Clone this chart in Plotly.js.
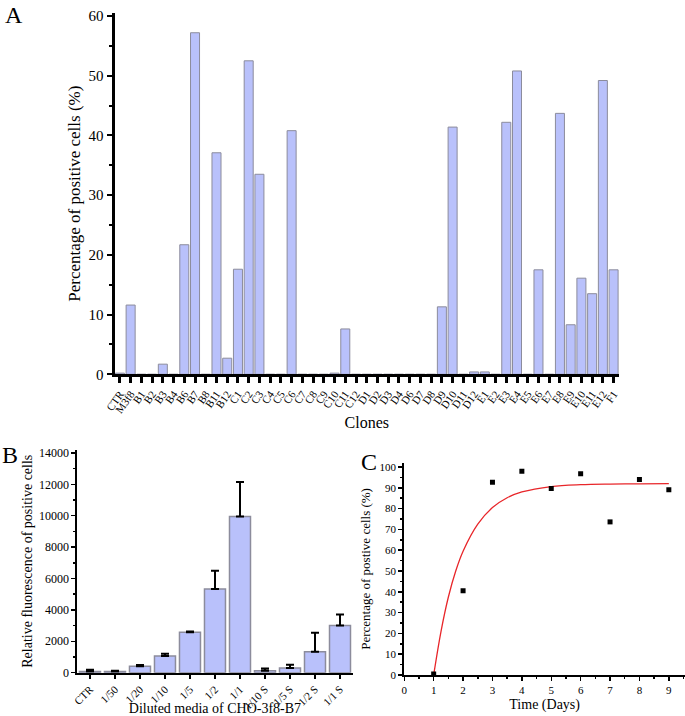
<!DOCTYPE html>
<html>
<head>
<meta charset="utf-8">
<script src="https://cdn.plot.ly/plotly-3.0.1.min.js"></script>
<style>html,body{margin:0;padding:0;background:#fff;}#chart{width:685px;height:716px;}</style>
</head>
<body>
<div id="chart"></div>
<script>
// Panel A data
const clones = ["CTR","M3f8","B1","B2","B3","B4","B6","B7","B8","B11","B12",
  "C1","C2","C3","C4","C5","C6","C7","C8","C9","C10","C11","C12",
  "D1","D2","D3","D4","D6","D7","D8","D9","D10","D11","D12",
  "E1","E2","E3","E4","E5","E6","E7","E8","E9","E10","E11","E12","F1"];
const positiveA = [0.2,11.6,0,0,1.7,0,21.7,57.2,0,37.1,2.7,
  17.6,52.5,33.5,0,0,40.8,0,0,0,0.2,7.6,0,
  0,0,0,0,0,0,0,11.3,41.4,0,0.4,
  0.4,0,42.2,50.8,0,17.5,0,43.7,8.3,16.1,13.5,49.2,17.5];

// Panel B data
const dilutions = ["CTR","1/50","1/20","1/10","1/5","1/2","1/1","1/10 S","1/5 S","1/2 S","1/1 S"];
const fluorescence = [80,80,410,1070,2580,5330,9950,130,300,1340,3000];
const fluorescenceErr = [100,50,80,140,50,1160,2200,130,200,1210,700];
const zeroErr = [0,0,0,0,0,0,0,0,0,0,0];

// Panel C data
const days = [1,2,3,4,5,6,7,8,9];
const positiveC = [0.5,40.5,92.7,98,89.7,96.8,73.6,94,89];
const fitDays = [1,1.25,1.5,1.75,2,2.5,3,3.5,4,5,6,7,8,9];
const fitValues = [0,21,37.5,50,59.5,72.5,80.5,85.2,88,90.6,91.5,91.8,91.9,92];

const barFill = "#b9c1fb";
const barLine = "#8c8c9c";
const serif = '"Liberation Serif", "Times New Roman", serif';

const traces = [
  {type:"bar", x:clones, y:positiveA, xaxis:"x", yaxis:"y",
   marker:{color:barFill, line:{color:barLine, width:1}}},
  {type:"bar", x:dilutions, y:fluorescence, xaxis:"x2", yaxis:"y2",
   marker:{color:barFill, line:{color:barLine, width:1.5}},
   error_y:{type:"data", symmetric:false, array:fluorescenceErr, arrayminus:zeroErr,
            color:"#000", thickness:2, width:4}},
  {type:"scatter", mode:"lines", x:fitDays, y:fitValues, xaxis:"x3", yaxis:"y3",
   line:{color:"#e8262a", width:1.3, shape:"spline"}},
  {type:"scatter", mode:"markers", x:days, y:positiveC, xaxis:"x3", yaxis:"y3",
   marker:{symbol:"square", color:"#000", size:5}}
];

const axBase = {showgrid:false, zeroline:false, showline:true, linecolor:"#000",
  ticks:"outside", tickcolor:"#000", automargin:false};

const layout = {
  width:685, height:716, showlegend:false, bargap:0.16,
  margin:{l:0,r:0,t:0,b:0}, paper_bgcolor:"#fff", plot_bgcolor:"#fff",
  font:{family:serif, color:"#000"},
  xaxis:Object.assign({}, axBase, {domain:[0.1672,0.9036], anchor:"y", type:"category",
    range:[-0.5,46.5], tickmode:"array", tickvals:clones, ticktext:clones,
    linewidth:3, ticklen:6, tickwidth:3, tickangle:-55,
    tickfont:{size:11, family:serif},
    title:{text:"Clones", font:{size:16, family:serif}, standoff:3}}),
  yaxis:Object.assign({}, axBase, {domain:[0.4772,0.9818], anchor:"x",
    range:[0,60.5], dtick:10, linewidth:3, ticklen:5, tickwidth:2,
    minor:{ticks:"outside", dtick:5, ticklen:3, tickwidth:2, tickcolor:"#000"},
    tickfont:{size:15, family:serif},
    title:{text:"Percentage of positive cells (%)", font:{size:17, family:serif}, standoff:4}}),
  xaxis2:Object.assign({}, axBase, {domain:[0.1131,0.5146], anchor:"y2", type:"category",
    range:[-0.5,10.5], linewidth:2, ticklen:4, tickwidth:2, tickangle:-45,
    tickfont:{size:11, family:serif},
    title:{text:"Diluted media of CHO-3f8-B7", font:{size:14, family:serif}, standoff:2}}),
  yaxis2:Object.assign({}, axBase, {domain:[0.0605,0.3718], anchor:"x2",
    range:[0,14200], dtick:2000, tickformat:"d", linewidth:2, ticklen:4, tickwidth:1.5,
    minor:{ticks:"outside", dtick:1000, ticklen:2, tickwidth:1.5, tickcolor:"#000"},
    tickfont:{size:12, family:serif},
    title:{text:"Relative fluorescence of positive cells", font:{size:14, family:serif}, standoff:3}}),
  xaxis3:Object.assign({}, axBase, {domain:[0.5902,1.0], anchor:"y3",
    range:[0,9.55], dtick:1, linewidth:2, ticklen:4, tickwidth:1.5,
    minor:{ticks:"outside", dtick:0.5, ticklen:2, tickwidth:1.5, tickcolor:"#000"},
    tickfont:{size:11, family:serif},
    title:{text:"Time (Days)", font:{size:14, family:serif}, standoff:4}}),
  yaxis3:Object.assign({}, axBase, {domain:[0.0573,0.3536], anchor:"x3",
    range:[0,102], dtick:10, linewidth:2, ticklen:4, tickwidth:1.5,
    minor:{ticks:"outside", dtick:5, ticklen:2, tickwidth:1.5, tickcolor:"#000"},
    tickfont:{size:11, family:serif},
    title:{text:"Percentage of postive cells (%)", font:{size:13, family:serif}, standoff:6}}),
  annotations:[
    {text:"A", xref:"paper", yref:"paper", x:0.005, y:1.0, xanchor:"left", yanchor:"top", showarrow:false, font:{size:24, family:serif}},
    {text:"B", xref:"paper", yref:"paper", x:0.0, y:0.385, xanchor:"left", yanchor:"top", showarrow:false, font:{size:24, family:serif}},
    {text:"C", xref:"paper", yref:"paper", x:0.524, y:0.376, xanchor:"left", yanchor:"top", showarrow:false, font:{size:24, family:serif}}
  ]
};

Plotly.newPlot("chart", traces, layout, {staticPlot:true, displayModeBar:false});
</script>
</body>
</html>
